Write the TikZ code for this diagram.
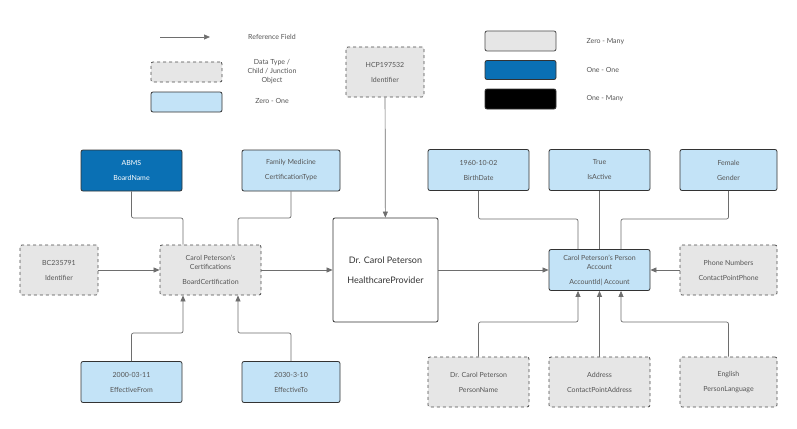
\documentclass[tikz,border=0pt]{standalone}
\usepackage{fontspec}
\setmainfont{Lato}
\usetikzlibrary{arrows.meta}
\definecolor{lineg}{HTML}{6E6E6E}
\definecolor{txtg}{HTML}{555555}
\definecolor{paleblue}{HTML}{C3E3F7}
\definecolor{darkblue}{HTML}{0A70B4}
\definecolor{lightgray}{HTML}{E6E6E6}
\begin{document}
\begin{tikzpicture}[x=1pt, y=-1pt,
        zeroone/.style={rectangle, rounded corners=2pt, draw=black!80, line width=0.8pt, fill=paleblue, minimum width=101pt, minimum height=41pt, font=\fontsize{7}{9}\selectfont, text=txtg, align=center},
        oneone/.style={zeroone, fill=darkblue, text=white},
        child/.style={zeroone, dashed, draw=black!70, fill=lightgray, minimum height=50pt},
        provider/.style={rectangle, rounded corners=2pt, draw=black!80, line width=0.8pt, fill=white, minimum width=105pt, minimum height=104pt, font=\fontsize{9}{12}\selectfont, text=black!80, align=center},
        legend/.style={font=\fontsize{7}{9}\selectfont, text=txtg, align=center},
        ref/.style={-{Triangle[length=6pt, width=5pt]}, lineg, line width=0.7pt},
        link/.style={lineg, line width=0.7pt, rounded corners=2pt}
    ]
    \useasboundingbox[fill=white] (0,0) rectangle (797,428);

    % legend
    \coordinate (lgA) at (160,37);
    \coordinate (lgB) at (210,37);
    \draw[ref] (lgA) -- (lgB);
    \node[legend] (lgref) at (272,37) {Reference Field};
    \node[child, minimum width=71pt, minimum height=20pt] (lgchild) at (186.5,72) {};
    \node[legend] (lgchildt) at (272,72) {Data Type /\\Child / Junction\\Object};
    \node[zeroone, minimum width=71pt, minimum height=20pt] (lgzo) at (186.5,102) {};
    \node[legend] (lgzot) at (272,101) {Zero - One};
    \node[child, solid, minimum width=71pt, minimum height=20pt] (lgzm) at (520.5,41) {};
    \node[legend, anchor=west] (lgzmt) at (583,42) {Zero - Many};
    \node[oneone, minimum width=71pt, minimum height=19pt] (lgoo) at (520.5,70) {};
    \node[legend, anchor=west] (lgoot) at (583,70) {One - One};
    \node[oneone, fill=black, minimum width=71pt, minimum height=20pt] (lgom) at (520.5,99) {};
    \node[legend, anchor=west] (lgomt) at (583,99) {One - Many};

    % provider side
    \node[provider] (hp) at (385.5,270) {Dr. Carol Peterson\\[8pt]HealthcareProvider};
    \node[child, minimum width=78pt] (hcp) at (385,72) {HCP197532\\[6pt]Identifier};
    \node[oneone] (abms) at (131.5,170.5) {ABMS\\[6pt]BoardName};
    \node[zeroone, minimum width=98pt] (fam) at (291,170.5) {Family Medicine\\[6pt]CertificationType};
    \node[child, minimum width=78pt] (bc) at (59,270) {BC235791\\[6pt]Identifier};
    \node[child] (cert) at (210.5,270) {Carol Peterson's\\Certifications\\[6pt]BoardCertification};
    \node[zeroone] (efrom) at (131.5,382) {2000-03-11\\[6pt]EffectiveFrom};
    \node[zeroone, minimum width=98pt] (eto) at (291,382) {2030-3-10\\[6pt]EffectiveTo};

    % person account side
    \node[zeroone] (pa) at (599.5,270) {Carol Peterson's Person\\Account\\[6pt]AccountId| Account};
    \node[zeroone] (birth) at (478.5,170) {1960-10-02\\[6pt]BirthDate};
    \node[zeroone] (active) at (599.5,170) {True\\[6pt]IsActive};
    \node[zeroone, minimum width=97pt] (gender) at (728.5,170) {Female\\[6pt]Gender};
    \node[child, minimum width=97pt] (phone) at (728.5,270) {Phone Numbers\\[6pt]ContactPointPhone};
    \node[child] (pname) at (478.5,382) {Dr. Carol Peterson\\[6pt]PersonName};
    \node[child] (addr) at (599.5,382) {Address\\[6pt]ContactPointAddress};
    \node[child, minimum width=97pt] (lang) at (728.5,382) {English\\[6pt]PersonLanguage};

    % connectors
    \draw[ref] (hcp) -- (hp);
    \draw[ref] (bc) -- (cert);
    \draw[ref] (cert) -- (hp);
    \draw[ref] (hp) -- (pa);
    \draw[ref] (phone) -- (pa);
    \draw[link] (abms.south) |- (183,218) -- (cert.north -| 183,0);
    \draw[link] (fam.south) |- (238,218) -- (cert.north -| 238,0);
    \draw[ref, rounded corners=2pt] (efrom.north) |- (183,333) -- (cert.south -| 183,0);
    \draw[ref, rounded corners=2pt] (eto.north) |- (238,333) -- (cert.south -| 238,0);
    \draw[link] (birth.south) |- (578,219) -- (pa.north -| 578,0);
    \draw[link] (active) -- (pa);
    \draw[link] (gender.south) |- (621,219) -- (pa.north -| 621,0);
    \draw[ref, rounded corners=2pt] (pname.north) |- (578,322) -- (pa.south -| 578,0);
    \draw[ref] (addr) -- (pa);
    \draw[ref, rounded corners=2pt] (lang.north) |- (621,322) -- (pa.south -| 621,0);
\end{tikzpicture}
\end{document}
